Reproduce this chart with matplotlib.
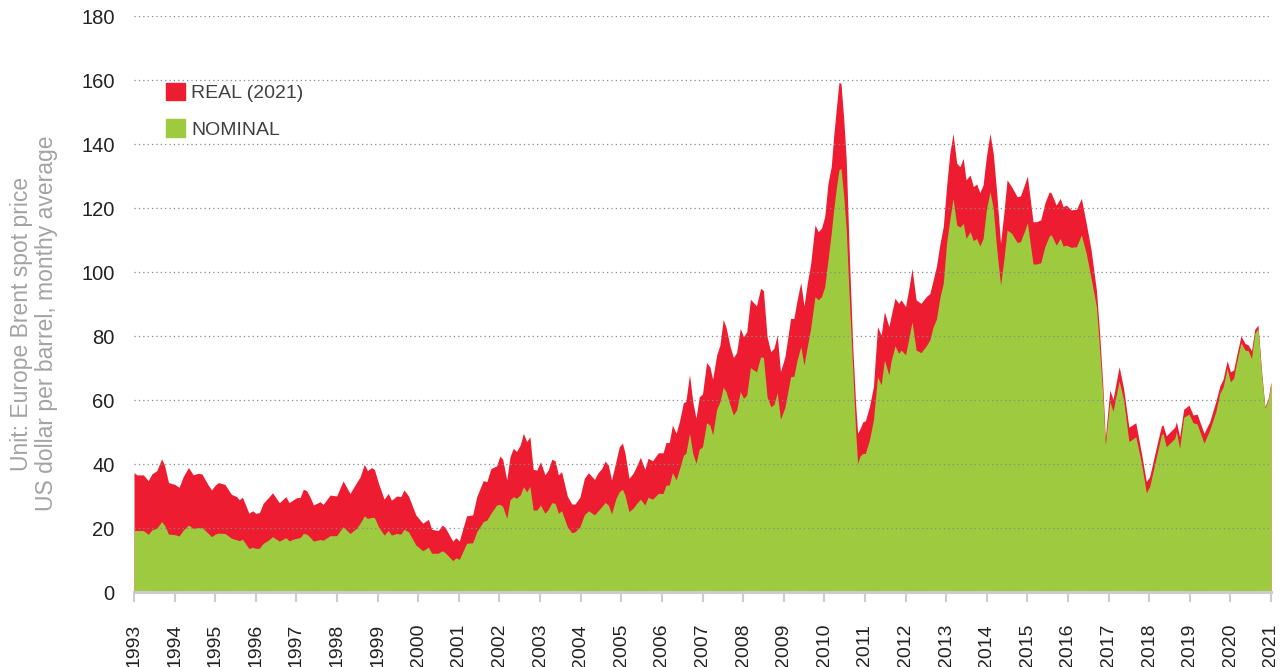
import matplotlib
matplotlib.use("Agg")
import matplotlib.pyplot as plt
from matplotlib.patches import Patch

plt.rcParams['font.family'] = ['Liberation Sans', 'DejaVu Sans']

# data (decimal year, USD per barrel)
years = [
    1993.00, 1993.07, 1993.23, 1993.35, 1993.44, 1993.56, 1993.68, 1993.75, 1993.85,
    1994.01, 1994.11, 1994.21, 1994.34, 1994.46, 1994.58, 1994.67, 1994.83, 1994.91,
    1995.00, 1995.08, 1995.24, 1995.40, 1995.53, 1995.59, 1995.67, 1995.83, 1995.92,
    1996.00, 1996.09, 1996.18, 1996.31, 1996.41, 1996.58, 1996.74, 1996.82, 1996.92,
    1997.01, 1997.09, 1997.17, 1997.25, 1997.33, 1997.42, 1997.58, 1997.66, 1997.83,
    1997.99, 1998.15, 1998.32, 1998.48, 1998.57, 1998.67, 1998.75, 1998.85, 1998.92,
    1999.02, 1999.16, 1999.26, 1999.34, 1999.47, 1999.57, 1999.65, 1999.76, 1999.94,
    2000.11, 2000.25, 2000.33, 2000.49, 2000.59, 2000.66, 2000.85, 2000.93,
    2001.01, 2001.19, 2001.34, 2001.44, 2001.60, 2001.69, 2001.79, 2001.93,
    2002.01, 2002.08, 2002.18, 2002.26, 2002.34, 2002.42, 2002.51, 2002.59, 2002.67,
    2002.75, 2002.83, 2002.92,
    2003.01, 2003.12, 2003.20, 2003.29, 2003.37, 2003.45, 2003.53, 2003.67, 2003.78, 2003.86, 2003.98,
    2004.09, 2004.19, 2004.34, 2004.43, 2004.52, 2004.60, 2004.68, 2004.76, 2004.87, 2004.95,
    2005.03, 2005.09, 2005.19, 2005.29, 2005.38, 2005.47, 2005.58, 2005.66, 2005.77, 2005.91,
    2006.03, 2006.10, 2006.18, 2006.26, 2006.35, 2006.43, 2006.53, 2006.59, 2006.68, 2006.76, 2006.84, 2006.92,
    2007.00, 2007.10, 2007.18, 2007.25, 2007.35, 2007.43, 2007.51, 2007.58,
    2007.68, 2007.76, 2007.84, 2007.93,
    2008.01, 2008.09, 2008.18, 2008.33, 2008.43, 2008.50, 2008.59, 2008.68, 2008.76, 2008.84, 2008.92,
    2009.03, 2009.17, 2009.25, 2009.33, 2009.42, 2009.50, 2009.58, 2009.66, 2009.77, 2009.85, 2009.93,
    2010.01, 2010.09, 2010.17, 2010.23, 2010.30, 2010.36, 2010.41, 2010.48, 2010.54, 2010.62,
    2010.70, 2010.77, 2010.82, 2010.88, 2010.95,
    2011.01, 2011.11, 2011.21, 2011.31, 2011.40, 2011.48, 2011.59, 2011.64, 2011.74, 2011.83, 2011.89,
    2012.00, 2012.09, 2012.16, 2012.26, 2012.38, 2012.51,
    2012.60, 2012.68, 2012.76, 2012.85, 2012.93,
    2013.01, 2013.09, 2013.17, 2013.26, 2013.34, 2013.42, 2013.49, 2013.59, 2013.67, 2013.75, 2013.83, 2013.91, 2013.99,
    2014.08, 2014.16, 2014.24, 2014.34, 2014.42, 2014.50, 2014.61, 2014.75, 2014.83, 2014.94,
    2015.00, 2015.14, 2015.22, 2015.33, 2015.43, 2015.54, 2015.59, 2015.71, 2015.81, 2015.88, 2015.96,
    2016.08, 2016.21, 2016.33, 2016.45, 2016.57, 2016.70, 2016.78, 2016.86, 2016.92,
    2017.03, 2017.11, 2017.26, 2017.37, 2017.50, 2017.67, 2017.81, 2017.93,
    2018.01, 2018.18, 2018.30, 2018.34, 2018.42, 2018.63, 2018.67, 2018.75, 2018.85, 2018.98,
    2019.08, 2019.18, 2019.35, 2019.49, 2019.64, 2019.74, 2019.82, 2019.92,
    2020.00, 2020.08, 2020.15, 2020.26, 2020.36, 2020.44, 2020.52, 2020.60, 2020.68, 2020.77, 2020.85, 2020.93,
    2021.00,
]

real_2021 = [
    37.3, 36.6, 36.6, 34.8, 36.9, 37.9, 41.6, 39.7, 34.2,
    33.6, 32.7, 36.0, 38.9, 36.6, 37.1, 36.9, 33.4, 31.9,
    33.4, 34.2, 33.6, 30.5, 29.8, 28.8, 29.6, 24.6, 25.4,
    24.6, 24.8, 27.7, 29.5, 31.0, 27.9, 29.8, 27.9, 28.8,
    29.5, 29.5, 32.1, 31.7, 29.8, 27.2, 28.2, 27.4, 30.3,
    30.0, 34.7, 30.8, 34.2, 36.0, 39.9, 37.9, 38.9, 38.3,
    34.0, 29.0, 30.8, 28.7, 30.0, 29.8, 31.9, 30.0, 24.1,
    21.5, 22.7, 19.6, 19.2, 20.9, 20.2, 15.9, 17.0,
    15.9, 23.8, 24.1, 29.8, 34.8, 34.5, 38.6, 39.4,
    42.5, 41.5, 35.0, 42.3, 44.9, 43.9, 45.9, 49.6, 47.0,
    48.5, 38.3, 38.1,
    40.7, 36.6, 38.1, 41.5, 41.0, 36.6, 37.6, 30.0, 27.5, 27.5, 29.6,
    35.5, 37.3, 35.2, 37.3, 38.6, 40.9, 39.7, 35.0, 40.9, 45.4,
    46.5, 43.5, 35.5, 37.1, 39.4, 42.1, 38.3, 41.8, 41.0, 43.5,
    43.5, 46.7, 46.7, 52.2, 49.6, 53.2, 59.2, 59.5, 68.0, 59.5, 54.3, 61.0,
    61.9, 71.7, 70.4, 66.5, 74.1, 77.2, 85.2, 82.7,
    76.7, 73.3, 74.8, 82.4,
    79.8, 81.3, 91.5, 89.4, 94.9, 94.2, 79.8, 75.1, 76.2, 80.3, 68.9,
    73.5, 85.5, 85.5, 91.3, 96.7, 89.4, 96.5, 102.2, 114.7, 112.6, 113.7,
    117.3, 127.7, 132.9, 142.3, 151.7, 159.2, 159.0, 147.5, 135.0, 103.7,
    76.7, 59.0, 49.6, 51.1, 53.2,
    53.5, 57.9, 64.2, 82.9, 80.3, 87.6, 82.9, 86.0, 91.8, 90.2, 91.3,
    89.2, 95.4, 101.1, 91.3, 90.2, 92.3,
    93.3, 97.5, 101.7, 109.0, 114.2,
    126.7, 137.1, 143.3, 134.0, 132.9, 135.5, 128.8, 130.3, 126.7, 127.5, 124.8, 127.2, 136.0,
    143.3, 137.1, 125.6, 109.0, 118.3, 128.8, 126.7, 123.5, 123.8, 127.7,
    130.0, 115.7, 115.7, 116.3, 121.5, 125.1, 124.6, 120.9, 123.0, 120.4, 120.9,
    119.4, 119.6, 123.0, 115.2, 106.9, 94.4, 80.8, 64.2, 48.0,
    63.1, 60.2, 70.4, 63.6, 51.5, 52.9, 43.3, 34.5,
    36.0, 45.4, 51.9, 52.2, 48.8, 51.5, 53.2, 48.5, 57.1, 58.4,
    55.3, 55.6, 49.6, 53.2, 59.5, 64.4, 66.5, 72.3,
    68.8, 69.4, 73.7, 80.0, 77.7, 77.2, 75.4, 82.1, 83.4, 68.8, 57.9, 60.5,
    65.7,
]

nominal = [
    19.2, 19.2, 19.2, 18.0, 19.4, 19.9, 22.0, 20.9, 18.1,
    17.9, 17.5, 19.3, 20.9, 19.9, 20.1, 20.2, 18.3, 17.3,
    18.1, 18.4, 18.3, 16.8, 16.3, 16.0, 16.5, 13.6, 14.0,
    13.6, 13.7, 15.2, 16.2, 17.3, 15.9, 17.0, 16.0, 16.5,
    16.8, 17.0, 18.3, 18.1, 17.2, 15.9, 16.4, 16.2, 17.6,
    17.6, 20.4, 18.3, 19.9, 21.5, 23.8, 23.0, 23.3, 23.3,
    20.4, 17.8, 19.2, 17.8, 18.3, 18.1, 19.6, 18.8, 14.7,
    12.9, 14.0, 12.1, 12.1, 12.9, 12.3, 9.8, 10.7,
    10.2, 15.2, 15.4, 18.8, 22.0, 22.5, 24.6, 27.2,
    27.4, 26.7, 23.0, 28.8, 29.8, 29.3, 30.3, 32.9, 31.3,
    33.0, 25.6, 25.6,
    27.2, 24.6, 25.8, 27.9, 27.7, 24.6, 25.4, 20.4, 18.5, 18.8, 20.4,
    24.1, 25.4, 24.1, 25.4, 26.7, 28.0, 27.2, 24.4, 29.3, 31.3,
    32.1, 30.3, 25.1, 26.2, 27.7, 29.0, 27.2, 29.6, 29.0, 30.8,
    30.8, 33.4, 33.4, 37.3, 35.0, 38.3, 42.8, 43.3, 49.6, 43.3, 40.2, 44.6,
    45.4, 52.9, 52.2, 49.1, 57.1, 59.5, 64.0, 62.6,
    58.4, 55.3, 56.9, 62.6,
    60.5, 61.6, 70.1, 68.8, 73.5, 73.3, 61.0, 57.9, 58.6, 62.3, 54.0,
    57.7, 67.3, 67.4, 72.5, 76.7, 70.9, 76.7, 82.1, 92.3, 91.3, 92.3,
    95.4, 103.7, 112.1, 119.4, 126.7, 131.9, 132.4, 123.5, 113.1, 90.2,
    69.4, 50.6, 40.2, 42.5, 43.3,
    43.3, 47.5, 53.8, 67.3, 64.7, 72.5, 67.8, 72.0, 76.9, 74.6, 75.6,
    74.1, 79.8, 84.5, 75.6, 74.8, 76.9,
    78.8, 82.9, 85.2, 92.3, 96.5,
    109.0, 116.3, 123.0, 114.7, 114.0, 115.2, 110.5, 112.6, 109.8, 110.5, 108.1, 110.5, 119.4,
    125.1, 119.9, 107.9, 95.9, 103.7, 113.1, 112.1, 109.2, 109.5, 113.1,
    115.4, 102.5, 102.5, 102.9, 107.9, 111.3, 111.6, 108.4, 110.5, 108.1, 108.4,
    107.7, 107.9, 111.6, 105.8, 98.0, 89.2, 75.6, 61.0, 46.0,
    59.5, 56.5, 66.0, 60.0, 47.0, 48.5, 40.2, 31.0,
    32.9, 42.3, 49.1, 49.6, 45.4, 48.0, 50.1, 44.9, 54.6, 55.6,
    52.9, 52.5, 46.5, 50.6, 56.3, 62.1, 64.0, 69.9,
    65.7, 66.8, 71.5, 77.9, 75.6, 75.4, 73.0, 80.8, 82.4, 67.8, 57.4, 60.0,
    65.2,
]

year_ticks = list(range(1993, 2022))
y_ticks = list(range(0, 181, 20))

RED = '#ee1c31'
GREEN = '#9dca3f'

fig = plt.figure(figsize=(12.88, 6.67), dpi=100)
ax = fig.add_axes([134 / 1288, 75 / 667, 1137 / 1288, 576 / 667])

ax.fill_between(years, real_2021, color=RED, lw=0, label='REAL (2021)')
ax.fill_between(years, nominal, color=GREEN, lw=0, label='NOMINAL')

ax.set_xlim(1993, 2021)
ax.set_ylim(0, 180)
ax.set_xticks(year_ticks)
ax.set_xticklabels([str(y) for y in year_ticks], rotation=90, fontsize=14, color='#222222')
ax.set_yticks(y_ticks)
ax.set_yticklabels([str(v) for v in y_ticks], fontsize=14.5, color='#222222')

ax.tick_params(axis='y', length=0, pad=14)
ax.tick_params(axis='x', length=7, width=1.5, color='#cccccc', pad=16)

ax.set_axisbelow(False)
ax.yaxis.grid(True, color='#8a8a8a', lw=0.9, linestyle=(0, (1, 2.5)))
ax.xaxis.grid(False)

for s in ['top', 'right', 'left']:
    ax.spines[s].set_visible(False)
ax.spines['bottom'].set_color('#cccccc')
ax.spines['bottom'].set_linewidth(2.2)

handles = [Patch(color=RED, label='REAL (2021)'), Patch(color=GREEN, label='NOMINAL')]
leg = ax.legend(handles=handles, loc='upper left', bbox_to_anchor=((166 - 134) / 1137, (592 - 83) / 576),
                frameon=False, fontsize=14, handlelength=1.0, handleheight=1.0,
                handletextpad=0.3, labelspacing=0.88, borderpad=0, borderaxespad=0)
for t in leg.get_texts():
    t.set_color('#404040')

fig.text(34 / 1288, 0.515, "Unit: Europe Brent spot price\nUS dollar per barrel, monthy average",
         rotation=90, ha='center', va='center', multialignment='center',
         color='#a3a3a3', fontsize=16.5, linespacing=1.15)

fig.savefig('out.png', dpi=100)
